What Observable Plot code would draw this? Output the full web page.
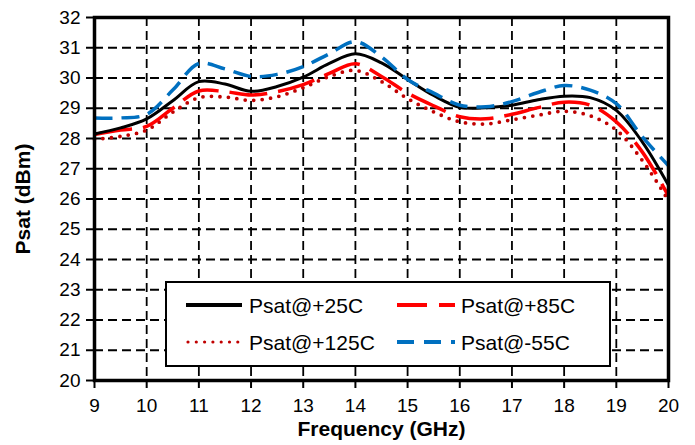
<!DOCTYPE html>
<html><head><meta charset="utf-8">
<script src="https://cdn.jsdelivr.net/npm/d3@7"></script>
<script src="https://cdn.jsdelivr.net/npm/@observablehq/plot@0.6"></script>
<style>
body{margin:0;background:#fff;}
#wrap{position:relative;width:695px;height:445px;font-family:"Liberation Sans",Arial,sans-serif;}
#legend{position:absolute;left:165px;top:281px;width:446px;height:86px;box-sizing:border-box;border:2.5px solid #000;background:#fff;}
#legend svg{position:absolute;left:0;top:0;}
</style></head><body>
<div id="wrap"></div>
<script>
const freq = [9, 9.5, 10, 10.5, 11, 11.5, 12, 12.5, 13, 13.5, 14, 14.5, 15, 15.5, 16, 16.5, 17, 17.5, 18, 18.5, 19, 19.5, 20];
const psat25  = [28.15, 28.35, 28.65, 29.25, 29.88, 29.8, 29.56, 29.72, 30.03, 30.48, 30.8, 30.5, 29.95, 29.42, 29.03, 29.02, 29.1, 29.28, 29.4, 29.35, 28.93, 27.88, 26.45];
const psat85  = [28.13, 28.28, 28.4, 29.0, 29.57, 29.55, 29.44, 29.55, 29.78, 30.15, 30.47, 30.05, 29.5, 29.08, 28.72, 28.65, 28.8, 29.02, 29.2, 29.1, 28.55, 27.55, 26.1];
const psat125 = [27.97, 28.07, 28.28, 28.87, 29.35, 29.37, 29.26, 29.38, 29.68, 30.05, 30.25, 29.88, 29.32, 28.88, 28.55, 28.48, 28.62, 28.77, 28.9, 28.75, 28.28, 27.27, 25.95];
const psatM55 = [28.68, 28.68, 28.8, 29.6, 30.48, 30.3, 30.05, 30.12, 30.38, 30.8, 31.2, 30.7, 29.95, 29.5, 29.1, 29.05, 29.22, 29.52, 29.75, 29.6, 29.15, 28.05, 27.1];
const seriesNames = ["Psat@+25C", "Psat@+85C", "Psat@+125C", "Psat@-55C"];
const xTicks = [9, 10, 11, 12, 13, 14, 15, 16, 17, 18, 19, 20];
const yTicks = [20, 21, 22, 23, 24, 25, 26, 27, 28, 29, 30, 31, 32];
const xTitle = "Frequency (GHz)";
const yTitle = "Psat (dBm)";

const styles = [
  {color: "#000000", width: 3, dash: null, cap: "butt", legendDash: null},
  {color: "#ff0000", width: 3.5, dash: "38,11", cap: "butt", legendDash: "30,12"},
  {color: "#c00000", width: 3.8, dash: "0,8.5", cap: "round", legendDash: "0,8.3"},
  {color: "#0070c0", width: 3.5, dash: "18,9", cap: "butt", legendDash: "17,10"}
];
const valuesList = [psat25, psat85, psat125, psatM55];
const data = seriesNames.flatMap((name, k) => freq.map((f, i) => ({series: name, f, v: valuesList[k][i]})));

const lineMarks = seriesNames.map((name, k) => Plot.line(data.filter(d => d.series === name), {
  x: "f", y: "v", stroke: styles[k].color, strokeWidth: styles[k].width,
  strokeDasharray: styles[k].dash, strokeLinecap: styles[k].cap, curve: "catmull-rom"
}));
// draw order: dotted, red, black, blue
const ordered = [lineMarks[2], lineMarks[1], lineMarks[0], lineMarks[3]];

const chart = Plot.plot({
  width: 695, height: 445,
  marginLeft: 94, marginRight: 27, marginTop: 17, marginBottom: 65,
  style: {fontFamily: '"Liberation Sans", Arial, sans-serif', fontSize: "19px", color: "#000", background: "#fff"},
  x: {domain: [9, 20]},
  y: {domain: [20, 32]},
  marks: [
    Plot.gridX(xTicks.slice(1, -1), {stroke: "#000", strokeOpacity: 1, strokeWidth: 1.8, strokeDasharray: "9,5"}),
    Plot.gridY(yTicks.slice(1, -1), {stroke: "#000", strokeOpacity: 1, strokeWidth: 1.8, strokeDasharray: "9,5"}),
    ...ordered,
    Plot.frame({stroke: "#000", strokeWidth: 3.5}),
    Plot.axisX(xTicks, {tickSize: 8, tickPadding: 10, strokeWidth: 2, label: null, fontSize: 19}),
    Plot.axisY(yTicks, {tickSize: 8, tickPadding: 6, strokeWidth: 2, label: null, fontSize: 19}),
    Plot.text([xTitle], {frameAnchor: "bottom", textAnchor: "middle", lineAnchor: "middle", dy: 49, fontWeight: "bold", fontSize: 21}),
    Plot.text([yTitle], {frameAnchor: "left", textAnchor: "middle", lineAnchor: "middle", rotate: -90, dx: -71, fontWeight: "bold", fontSize: 21})
  ]
});
const wrap = document.getElementById("wrap");
wrap.appendChild(chart);

// legend overlay
const legend = document.createElement("div");
legend.id = "legend";
wrap.appendChild(legend);
const lsvg = d3.select(legend).append("svg").attr("width", 446).attr("height", 86);
const pos = [
  {x1: 19, x2: 75, tx: 82, y: 22},
  {x1: 230, x2: 288, tx: 294, y: 22},
  {x1: 19, x2: 75, tx: 82, y: 59},
  {x1: 230, x2: 288, tx: 294, y: 59}
];
seriesNames.forEach((name, k) => {
  const p = pos[k], s = styles[k];
  lsvg.append("line").attr("x1", p.x1 + (k === 2 ? 2 : 0)).attr("x2", p.x2).attr("y1", p.y).attr("y2", p.y)
    .attr("stroke", s.color).attr("stroke-width", k === 2 ? 3.2 : 4)
    .attr("stroke-dasharray", s.legendDash).attr("stroke-linecap", s.cap);
  lsvg.append("text").attr("x", p.tx).attr("y", p.y).attr("dy", "0.36em")
    .attr("font-family", '"Liberation Sans", Arial, sans-serif').attr("font-size", 21).text(name);
});
</script>
</body></html>
